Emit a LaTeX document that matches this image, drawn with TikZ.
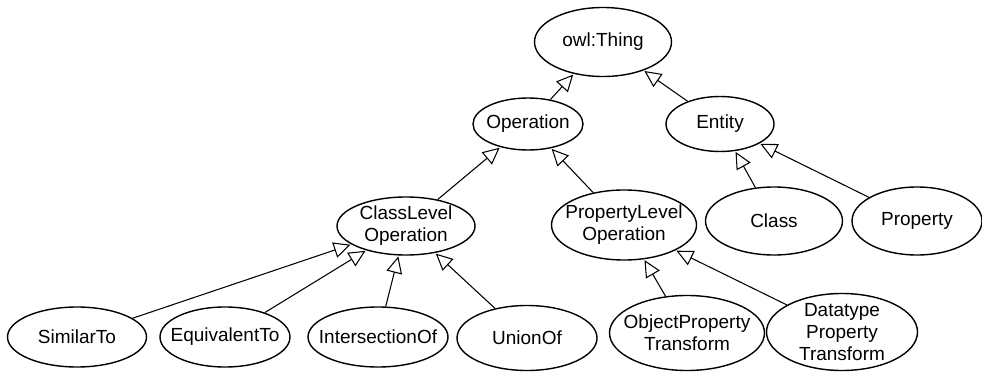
\documentclass[tikz,border=0pt]{standalone}
\usepackage{fontspec}
\setmainfont{Liberation Sans}
\usepackage{tikz}
\usetikzlibrary{shapes.geometric,arrows.meta}

\begin{document}
\begin{tikzpicture}[
		cls/.style={draw, ellipse, line width=0.8pt, inner xsep=-9pt, inner ysep=-5pt, align=center, font=\fontsize{10.8}{12.5}\selectfont},
		isa/.style={-{Triangle[open, length=9.5pt, width=9pt]}, line width=0.6pt, shorten >=0.5pt}
	]
			\useasboundingbox (0,0) rectangle (19.64,7.42);
			% top of the hierarchy
			\node[cls, minimum width=2.74cm, minimum height=1.38cm] (thing) at (12.06,6.58) {owl:Thing};
			\node[cls, minimum width=2.2cm, minimum height=1.04cm] (op) at (10.56,4.94) {Operation};
			\node[cls, minimum width=2.16cm, minimum height=1.1cm] (ent) at (14.40,4.94) {Entity};
			% second level
			\node[cls, minimum width=2.76cm, minimum height=1.16cm] (clop) at (8.12,2.90) {ClassLevel\\Operation};
			\node[cls, minimum width=2.9cm, minimum height=1.4cm] (plop) at (12.48,2.92) {PropertyLevel\\Operation};
			\node[cls, minimum width=2.74cm, minimum height=1.36cm] (class) at (15.48,3.00) {Class};
			\node[cls, minimum width=2.6cm, minimum height=1.36cm] (prop) at (18.34,3.00) {Property};
			% leaves
			\node[cls, minimum width=2.78cm, minimum height=1.2cm] (sim) at (1.54,0.68) {SimilarTo};
			\node[cls, minimum width=2.6cm, minimum height=1.2cm] (equiv) at (4.50,0.68) {EquivalentTo};
			\node[cls, minimum width=2.8cm, minimum height=1.2cm] (inter) at (7.56,0.68) {IntersectionOf};
			\node[cls, minimum width=2.8cm, minimum height=1.3cm] (union) at (10.54,0.66) {UnionOf};
			\node[cls, minimum width=3.1cm, minimum height=1.5cm] (optr) at (13.74,0.76) {ObjectProperty\\Transform};
			\node[cls, minimum width=3.02cm, minimum height=1.54cm] (dptr) at (16.84,0.78) {Datatype\\Property\\Transform};

			\draw[isa] (op) -- (thing);
			\draw[isa] (ent) -- (thing);
			\draw[isa] (clop) -- (op);
			\draw[isa] (plop) -- (op);
			\draw[isa] (class) -- (ent);
			\draw[isa] (prop) -- (ent);
			\draw[isa] (sim) -- (clop);
			\draw[isa] (equiv) -- (clop);
			\draw[isa] (inter) -- (clop);
			\draw[isa] (union) -- (clop);
			\draw[isa] (optr) -- (plop);
			\draw[isa] (dptr) -- (plop);
		\end{tikzpicture}
\end{document}
